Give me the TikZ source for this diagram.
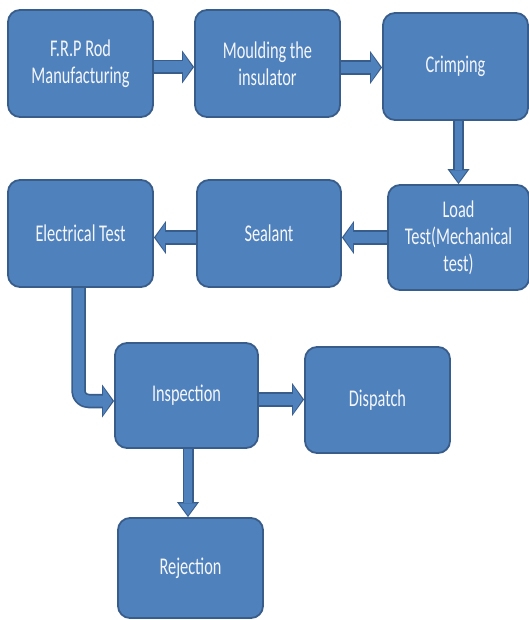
\documentclass[tikz,border=0pt]{standalone}
\usepackage{fontspec}
\setmainfont[FakeStretch=0.68]{Carlito}
\usetikzlibrary{arrows.meta,backgrounds}
\definecolor{boxblue}{RGB}{79,129,189}
\definecolor{edgeblue}{RGB}{56,93,138}
\definecolor{labelwhite}{RGB}{244,246,250}
\tikzset{
  stage/.style={draw=edgeblue, line width=1.8pt, fill=boxblue, rounded corners=12pt,
    text=labelwhite, align=center, inner sep=0pt,
    font=\fontsize{24}{27}\selectfont},
  % block arrows: dark outline pass, then blue fill pass on top
  harrow/.style={draw=edgeblue, line width=14.5pt, line join=round,
    -{Triangle[width=33pt,length=12pt,line width=0pt]},
    postaction={draw=boxblue, line width=11pt, shorten >=1.6pt,
      -{Triangle[width=28pt,length=9.5pt,line width=0pt]}}},
  varrow/.style={draw=edgeblue, line width=11pt, line join=round,
    -{Triangle[width=22pt,length=15pt,line width=0pt]},
    postaction={draw=boxblue, line width=7.8pt, shorten >=1.8pt,
      -{Triangle[width=17.5pt,length=12pt,line width=0pt]}}},
}
\begin{document}
\begin{tikzpicture}[x=1pt,y=-1pt]
\useasboundingbox (0,0) rectangle (529,620);

% process stages
\node[stage, minimum width=145pt, minimum height=107pt] (frp)   at (80.5,63.5)  {F.R.P Rod\\Manufacturing};
\node[stage, minimum width=145pt, minimum height=107pt] (mould) at (267.5,63.5) {Moulding the\\insulator};
\node[stage, minimum width=145pt, minimum height=107pt] (crimp) at (455.5,66.5) {Crimping};
\node[stage, minimum width=141pt, minimum height=105pt] (load)  at (458.5,237.5) {Load\\Test(Mechanical\\test)};
\node[stage, minimum width=144pt, minimum height=107pt] (seal)  at (269,233.5)  {Sealant};
\node[stage, minimum width=145pt, minimum height=107pt] (elec)  at (80.5,233.5) {Electrical Test};
\node[stage, minimum width=143pt, minimum height=105pt] (insp)  at (186.5,395.5) {Inspection};
\node[stage, minimum width=145pt, minimum height=106pt] (disp)  at (377.5,400)  {Dispatch};
\node[stage, minimum width=145pt, minimum height=100pt] (rej)   at (190.5,568)  {Rejection};

% white page and the connecting block arrows, kept behind the stages
\begin{pgfonlayer}{background}
\fill[white] (0,0) rectangle (529,620);
\draw[harrow] ([yshift=-3.5pt]frp.east) -- ([yshift=-3.5pt]mould.west);
\draw[harrow] ([yshift=-4pt]mould.east) -- ([yshift=-4pt]mould.east -| crimp.west);
\draw[varrow] (crimp.south -| load.north) -- (load.north);
\draw[harrow] (load.west) -- (load.west -| seal.east);
\draw[harrow] ([yshift=-4pt]seal.west) -- ([yshift=-4pt]seal.west -| elec.east);
\draw[harrow, rounded corners=10pt] ([xshift=-2pt]elec.south) |- ([yshift=-5.5pt]insp.west);
\draw[harrow] ([yshift=-4pt]insp.east) -- ([yshift=-4pt]insp.east -| disp.west);
\draw[varrow] ([xshift=1.5pt]insp.south) -- ([xshift=1.5pt]insp.south |- rej.north);
\end{pgfonlayer}
\end{tikzpicture}
\end{document}
